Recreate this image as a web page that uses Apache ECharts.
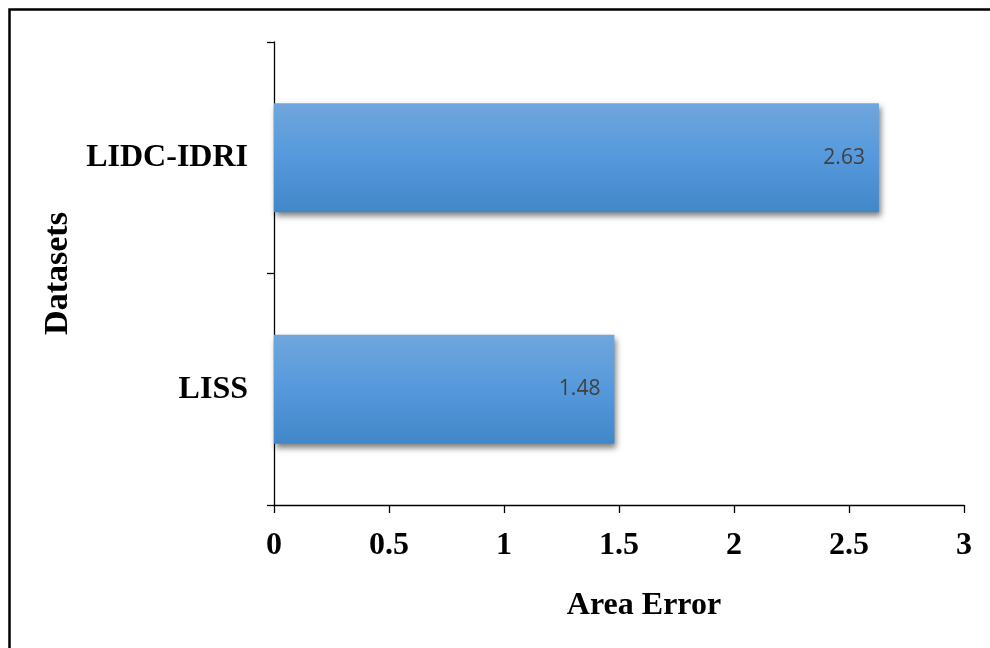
<!DOCTYPE html>
<html>
<head>
<meta charset="utf-8">
<script src="https://cdn.jsdelivr.net/npm/echarts@6/dist/echarts.min.js"></script>
<style>
  html, body { margin: 0; padding: 0; background: #fff; }
  #chart { width: 990px; height: 648px; }
</style>
</head>
<body>
<div id="chart"></div>
<script>
// Datasets shown bottom-to-top on the category axis
const datasets = ['LISS', 'LIDC-IDRI'];
const areaError = [1.48, 2.63];
const xTicks = [0, 0.5, 1, 1.5, 2, 2.5, 3];

const serif = '"Liberation Serif", "Times New Roman", serif';

const chart = echarts.init(document.getElementById('chart'), null, { renderer: 'canvas' });

chart.setOption({
  animation: false,
  backgroundColor: '#fff',
  graphic: [{
    type: 'rect',
    shape: { x: 9.5, y: 9.5, width: 1000, height: 700 },
    style: { fill: 'none', stroke: '#000', lineWidth: 2.5 },
    silent: true
  }],
  grid: { left: 274, right: 26, top: 42, bottom: 143 },
  xAxis: {
    type: 'value',
    min: xTicks[0],
    max: xTicks[xTicks.length - 1],
    interval: 0.5,
    name: 'Area Error',
    nameLocation: 'middle',
    nameGap: 85,
    nameTextStyle: {
      fontFamily: serif, fontWeight: 'bold', fontSize: 32, color: '#000',
      padding: [0, 0, 0, 50]
    },
    axisLine: { show: true, lineStyle: { color: '#000', width: 1.3 } },
    axisTick: { show: true, length: 8, lineStyle: { color: '#000', width: 1.3 } },
    axisLabel: {
      margin: 25,
      fontFamily: serif, fontWeight: 'bold', fontSize: 32, color: '#000',
      formatter: v => String(v)
    },
    splitLine: { show: false }
  },
  yAxis: {
    type: 'category',
    data: datasets,
    name: 'Datasets',
    nameLocation: 'middle',
    nameGap: 194,
    nameRotate: 90,
    nameTextStyle: { fontFamily: serif, fontWeight: 'bold', fontSize: 34, color: '#000' },
    axisLine: { show: true, lineStyle: { color: '#000', width: 1.3 } },
    axisTick: { show: true, length: 7, lineStyle: { color: '#000', width: 1.3 } },
    axisLabel: {
      margin: 26,
      fontFamily: serif, fontWeight: 'bold', fontSize: 32, color: '#000'
    }
  },
  series: [{
    type: 'bar',
    data: areaError,
    barWidth: '47%',
    itemStyle: {
      color: new echarts.graphic.LinearGradient(0, 0, 0, 1, [
        { offset: 0, color: '#70a6dc' },
        { offset: 0.5, color: '#5599dc' },
        { offset: 1, color: '#4287c8' }
      ]),
      shadowColor: 'rgba(0,0,0,0.5)',
      shadowBlur: 6,
      shadowOffsetX: 2,
      shadowOffsetY: 4
    },
    label: {
      show: true,
      position: 'insideRight',
      distance: 14,
      fontFamily: '"Open Sans", "Noto Sans", sans-serif',
      fontSize: 21,
      color: '#404040',
      formatter: p => p.value.toFixed(2)
    }
  }]
});
</script>
</body>
</html>
